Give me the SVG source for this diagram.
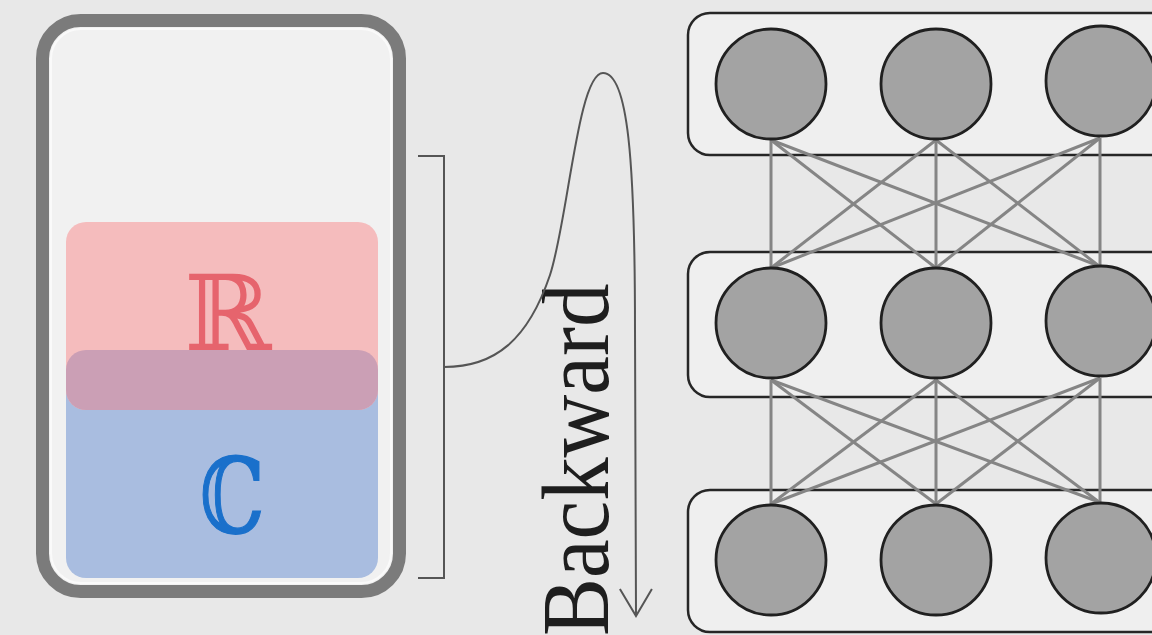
<svg xmlns="http://www.w3.org/2000/svg" width="1152" height="635" viewBox="0 0 1152 635">
<style>
.layer{fill:#efefef;stroke:#262626;stroke-width:2.5}
.neuron{fill:#a3a3a3;stroke:#202020;stroke-width:2.8}
.edge{stroke:#858585;stroke-width:3;fill:none}
.br{stroke:#555;stroke-width:2;fill:none}
</style>
<defs>
<marker id="open" markerWidth="32" markerHeight="36" refX="28" refY="17" orient="auto" markerUnits="userSpaceOnUse">
<path d="M1,1 L28,17 L1,33" fill="none" stroke="#555" stroke-width="2"/>
</marker>
<clipPath id="pinkClip"><rect x="66" y="222" width="312" height="188" rx="20"/></clipPath>
</defs>
<rect width="1152" height="635" fill="#e8e8e8"/>
<g id="memory">
<rect x="42.5" y="20.5" width="357" height="571" rx="38" fill="#f1f1f1" stroke="#7b7b7b" stroke-width="13"/>
<rect x="51" y="29" width="340" height="554" rx="30" fill="none" stroke="#fafafa" stroke-width="2"/>
<rect x="66" y="350" width="312" height="228" rx="20" fill="#a9bde0"/>
<rect x="66" y="222" width="312" height="188" rx="20" fill="#f5bcbd"/>
<rect x="66" y="350" width="312" height="228" rx="20" fill="#cb9fb5" clip-path="url(#pinkClip)"/>
<text x="228" y="350" font-family="'DejaVu Serif', serif" font-size="105" fill="#e6646d" text-anchor="middle">ℝ</text>
<text transform="translate(232,533) scale(0.78,1)" font-family="'DejaVu Serif', serif" font-size="105" fill="#1a70cb" stroke="#1a70cb" stroke-width="1.2" text-anchor="middle">ℂ</text>
</g>
<g id="bracket">
<path class="br" d="M418,156 H444 V578 H418"/>
</g>
<g id="label">
<text transform="translate(608,636) rotate(-90) scale(0.915,1)" font-family="'Liberation Serif', 'Times New Roman', serif" font-size="95" fill="#1e1e1e">Backward</text>
</g>
<g id="layer1">
<rect class="layer" x="688" y="13" width="500" height="142" rx="22"/>
</g>
<g id="layer2">
<rect class="layer" x="688" y="252" width="500" height="145" rx="22"/>
</g>
<g id="layer3">
<rect class="layer" x="688" y="490" width="500" height="142" rx="22"/>
</g>
<g id="connectors">
<path class="br" d="M444,367 C495,367 528,340 550,275 C568,220 578,73 603,73 C628,73 635,160 635,330 L636,616" marker-end="url(#open)"/>
<g class="edge">
<line x1="771" y1="140" x2="771" y2="268"/><line x1="771" y1="140" x2="936" y2="268"/><line x1="771" y1="140" x2="1099" y2="266"/>
<line x1="936" y1="140" x2="771" y2="268"/><line x1="936" y1="140" x2="936" y2="268"/><line x1="936" y1="140" x2="1099" y2="266"/>
<line x1="1100" y1="138" x2="771" y2="268"/><line x1="1100" y1="138" x2="936" y2="268"/><line x1="1100" y1="138" x2="1100" y2="266"/>
<line x1="771" y1="380" x2="771" y2="504"/><line x1="771" y1="380" x2="936" y2="504"/><line x1="771" y1="380" x2="1099" y2="502"/>
<line x1="936" y1="380" x2="771" y2="504"/><line x1="936" y1="380" x2="936" y2="504"/><line x1="936" y1="380" x2="1099" y2="502"/>
<line x1="1100" y1="378" x2="771" y2="504"/><line x1="1100" y1="378" x2="936" y2="504"/><line x1="1100" y1="378" x2="1100" y2="502"/>
</g>
</g>
<g id="n11"><circle class="neuron" cx="771" cy="84" r="55"/></g>
<g id="n12"><circle class="neuron" cx="936" cy="84" r="55"/></g>
<g id="n13"><circle class="neuron" cx="1101" cy="81" r="55"/></g>
<g id="n21"><circle class="neuron" cx="771" cy="323" r="55"/></g>
<g id="n22"><circle class="neuron" cx="936" cy="323" r="55"/></g>
<g id="n23"><circle class="neuron" cx="1101" cy="321" r="55"/></g>
<g id="n31"><circle class="neuron" cx="771" cy="560" r="55"/></g>
<g id="n32"><circle class="neuron" cx="936" cy="560" r="55"/></g>
<g id="n33"><circle class="neuron" cx="1101" cy="558" r="55"/></g>
</svg>
